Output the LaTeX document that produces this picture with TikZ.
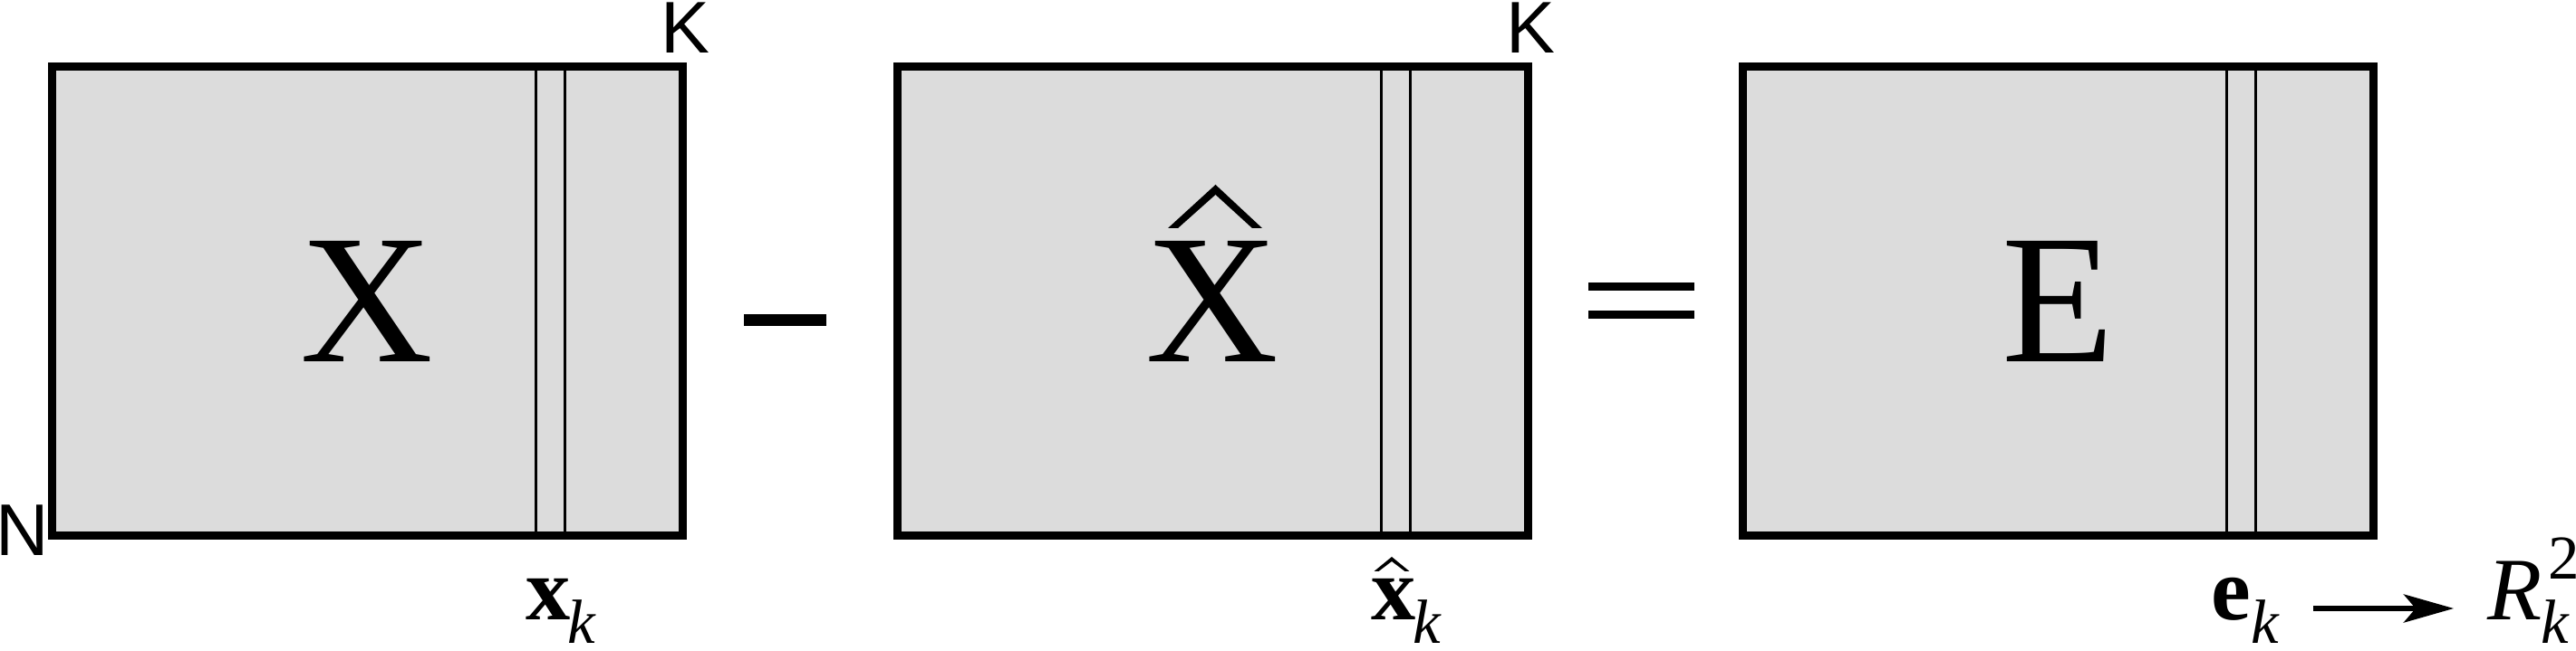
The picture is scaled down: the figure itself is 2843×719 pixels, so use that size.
\documentclass[tikz,border=0pt]{standalone}
\usepackage{fontspec}
\setmainfont{Liberation Serif}
\newfontfamily\sansf{Liberation Sans}
\usetikzlibrary{arrows.meta,calc}
\definecolor{matfill}{RGB}{220,220,220}
\newcommand\subf{\fontsize{19.6}{20}\selectfont}
\begin{document}
\begin{tikzpicture}[x=0.01cm,y=-0.01cm,
  matbox/.style={draw=black,fill=matfill,line width=2.6pt,minimum width=6.955cm,minimum height=5.17cm,inner sep=0pt,outer sep=0pt},
  strip/.style={line width=0.85pt},
  bigletter/.style={inner sep=0pt,font=\fontsize{57.8}{60}\selectfont},
  dimlab/.style={inner sep=0pt,font=\sansf\fontsize{23}{25}\selectfont},
  vlab/.style={inner sep=0pt,anchor=base west,font=\fontsize{28}{30}\selectfont},
  hatshape/.style={fill=black,draw=none},
  opbar/.style={fill=black,draw=none},
  arr/.style={line width=1.7pt,-{Stealth[length=0.55cm,width=0.31cm,inset=0.13cm]}}
]
\useasboundingbox[fill=white] (0,0) rectangle (2843,719);

% matrices
\node[matbox] (A) at (405.25,332.5) {};
\node[matbox] (B) at (1338.25,332.5) {};
\node[matbox] (C) at (2271.25,332.5) {};

% column strips
\foreach \m in {A,B,C}{
  \draw[strip] ([xshift=5.342cm]\m.north west) -- ([xshift=5.342cm]\m.south west);
  \draw[strip] ([xshift=5.658cm]\m.north west) -- ([xshift=5.658cm]\m.south west);
}

% big letters
\node[bigletter] (Xa) at (A) {X};
\node[bigletter] (Xb) at (B) {X};
\node[bigletter] (Ec) at (C) {E};
\fill[hatshape] (1289,252) -- (1341.5,204) -- (1393,252) -- (1382,252) -- (1341.5,215) -- (1300,252) -- cycle;

% dimension labels
\node[dimlab] (K1) at (756,31) {K};
\node[dimlab] (K2) at (1689,31) {K};
\node[dimlab] (N) at (25,586) {N};

% operators
\fill[opbar] (821,347.5) rectangle (912,360.5);
\fill[opbar] (1752.6,312) rectangle (1869.8,321);
\fill[opbar] (1752.6,343.5) rectangle (1869.8,352.5);

% vector labels
\node[vlab] (xk) at (580,685) {\textbf{x}\hspace{-1pt}\raisebox{-7.2pt}{\subf\itshape k}};
\node[vlab] (xhk) at (1513,685) {\textbf{x}\hspace{-1pt}\raisebox{-7.2pt}{\subf\itshape k}};
\fill[hatshape] (1516.5,631) -- (1536,615) -- (1555.5,631) -- (1550.5,631) -- (1536,620) -- (1521.5,631) -- cycle;
\node[vlab] (ek) at (2440,685) {\textbf{e}\raisebox{-7.2pt}{\subf\itshape k}};
\node[vlab] (R) at (2745,685) {\itshape R\rlap{\hspace{2pt}\raisebox{12.8pt}{\subf\upshape 2}}\hspace{-0.5pt}\raisebox{-7.2pt}{\subf k}};

\coordinate (ay) at (0,672);
\draw[arr,shorten <=0.37cm,shorten >=0.37cm] (ek.east |- ay) -- (R.west |- ay);
\end{tikzpicture}
\end{document}
